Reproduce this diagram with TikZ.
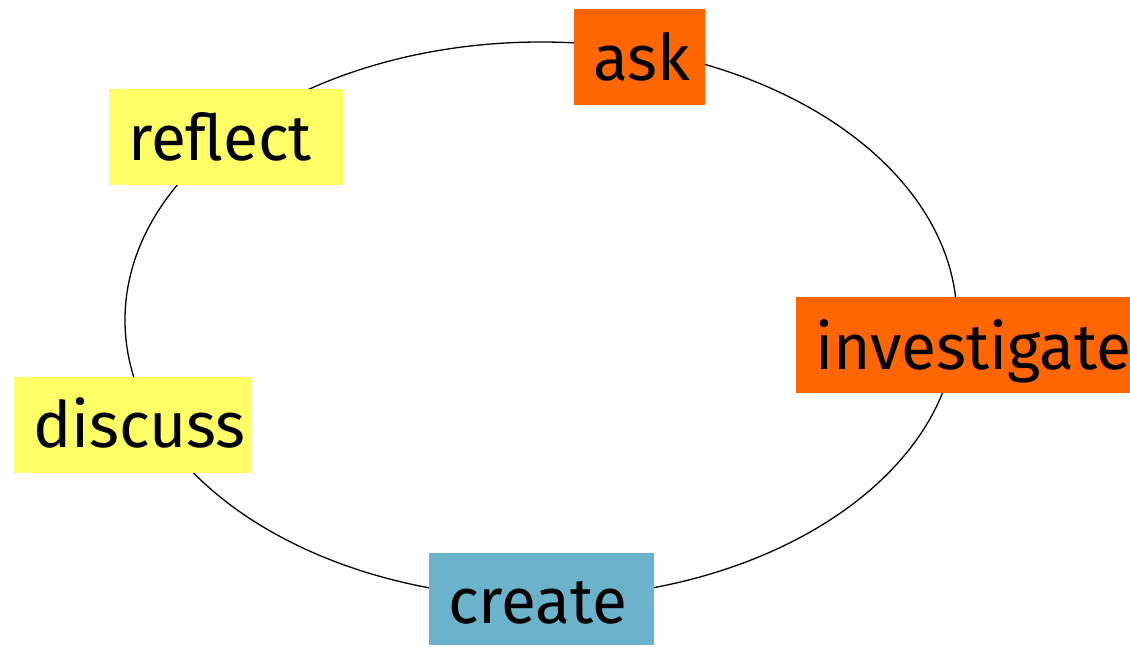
\documentclass[tikz,border=0pt]{standalone}
\usepackage{fontspec}
\setmainfont{Fira Sans}
\definecolor{cyorange}{HTML}{FF6600}
\definecolor{cyyellow}{HTML}{FFFF66}
\definecolor{cyblue}{HTML}{6BB3CB}
\begin{document}
\begin{tikzpicture}[x=1pt,y=-1pt,
  stagebox/.style={anchor=north west,inner sep=0pt,draw=none},
  stagetext/.style={anchor=base west,inner sep=0pt,font=\fontsize{64}{64}\selectfont}]
\useasboundingbox (0,0) rectangle (1130,646);
% the cycle
\draw[line width=1.3pt] (541,320) ellipse [x radius=416, y radius=278];
% stage boxes
\node[stagebox,fill=cyorange,minimum width=131,minimum height=96] (askbox) at (574,9) {};
\node[stagebox,fill=cyyellow,minimum width=234,minimum height=96] (reflectbox) at (109,89) {};
\node[stagebox,fill=cyorange,minimum width=334,minimum height=96] (investigatebox) at (796,297) {};
\node[stagebox,fill=cyyellow,minimum width=237,minimum height=96] (discussbox) at (14,377) {};
\node[stagebox,fill=cyblue,minimum width=225,minimum height=92] (createbox) at (429,553) {};
% stage names
\node[stagetext] (ask) at (593,80) {ask};
\node[stagetext] (reflect) at (128,160) {reflect};
\node[stagetext] (investigate) at (815,369) {investigate};
\node[stagetext] (discuss) at (33,447) {discuss};
\node[stagetext] (create) at (448,623) {create};
\end{tikzpicture}
\end{document}
